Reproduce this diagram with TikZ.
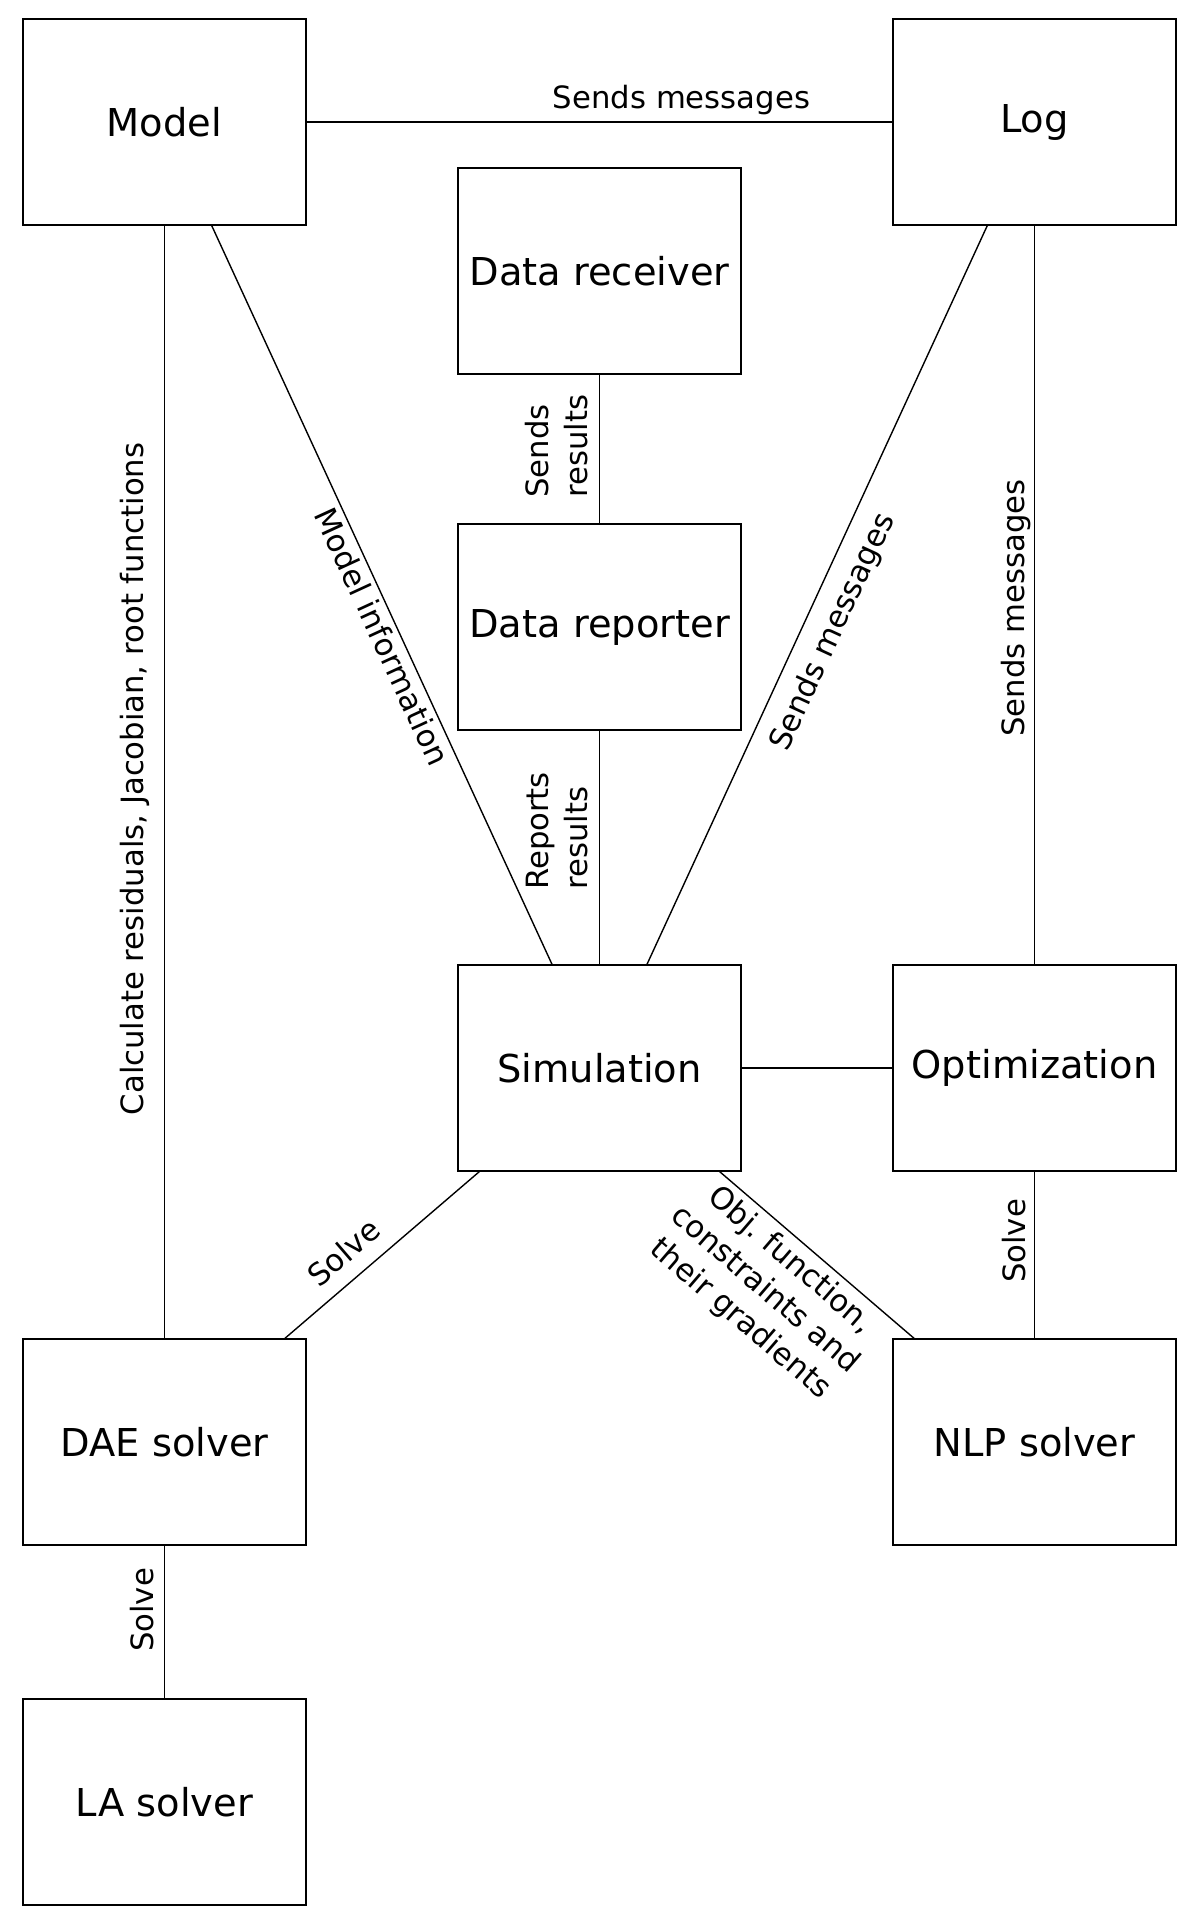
\documentclass[tikz,border=0pt]{standalone}
\usepackage{fontspec}
\setmainfont{DejaVu Sans}
\usetikzlibrary{positioning}
\begin{document}
\begin{tikzpicture}[
		x=1pt, y=-1pt,
		% Define styles for nodes
		block/.style={draw, rectangle, line width=1.5pt, outer sep=0pt, minimum width=283pt, minimum height=206pt, align=center, font=\fontsize{38.4}{46}\selectfont},
		edgelabel/.style={inner sep=0pt, font=\fontsize{30.7}{38.5}\selectfont},
		link/.style={draw, line width=1.4pt}
	]
	\useasboundingbox (0,0) rectangle (1200,1923);

	% Top row
	\node[block] (model) at (164.5,122) {Model};
	\node[block, right=587pt of model] (log) {Log};
	% Data nodes
	\node[block] (receiver) at (599.5,271) {Data receiver};
	\node[block, below=150pt of receiver] (reporter) {Data reporter};
	% Middle row
	\node[block, below=235pt of reporter] (simulation) {Simulation};
	\node[block, right=152pt of simulation] (optimization) {Optimization};
	% Solvers
	\node[block] (dae) at (164.5,1442) {DAE solver};
	\node[block, right=587pt of dae] (nlp) {NLP solver};
	\node[block, below=154pt of dae] (la) {LA solver};

	% Connectors
	\draw[link] (model) -- (log);
	\draw[link] (model) -- (dae);
	\draw[link] (model) -- (simulation);
	\draw[link] (log) -- (simulation);
	\draw[link] (log) -- (optimization);
	\draw[link] (receiver) -- (reporter);
	\draw[link] (reporter) -- (simulation);
	\draw[link] (simulation) -- (optimization);
	\draw[link] (simulation) -- (dae);
	\draw[link] (simulation) -- (nlp);
	\draw[link] (optimization) -- (nlp);
	\draw[link] (dae) -- (la);

	% Edge labels
	\node[edgelabel, anchor=base] (msgtop) at (681.5,108) {Sends messages};
	\node[edgelabel, anchor=base, rotate=65.3] (msgsim) at (841,636) {Sends messages};
	\node[edgelabel, anchor=base, rotate=90] (msgopt) at (1024,608) {Sends messages};
	\node[edgelabel, anchor=base, rotate=-65.3] (modelinfo) at (372,641) {Model information};
	\node[edgelabel, anchor=base, rotate=90] (calc) at (143,779) {Calculate residuals, Jacobian, root functions};
	\node[edgelabel, anchor=south west, rotate=90, align=left] (sendsres) at (588,498) {Sends\\results};
	\node[edgelabel, anchor=south west, rotate=90, align=left] (reportsres) at (588,890) {Reports\\results};
	\node[edgelabel, rotate=-40.7, align=center] (objfun) at (765,1290) {Obj.\ function,\\constraints and\\their gradients};
	\node[edgelabel, anchor=base, rotate=40.7] (solvedae) at (351,1261) {Solve};
	\node[edgelabel, anchor=base, rotate=90] (solvenlp) at (1025,1241) {Solve};
	\node[edgelabel, anchor=base, rotate=90] (solvela) at (153,1610) {Solve};
\end{tikzpicture}
\end{document}
